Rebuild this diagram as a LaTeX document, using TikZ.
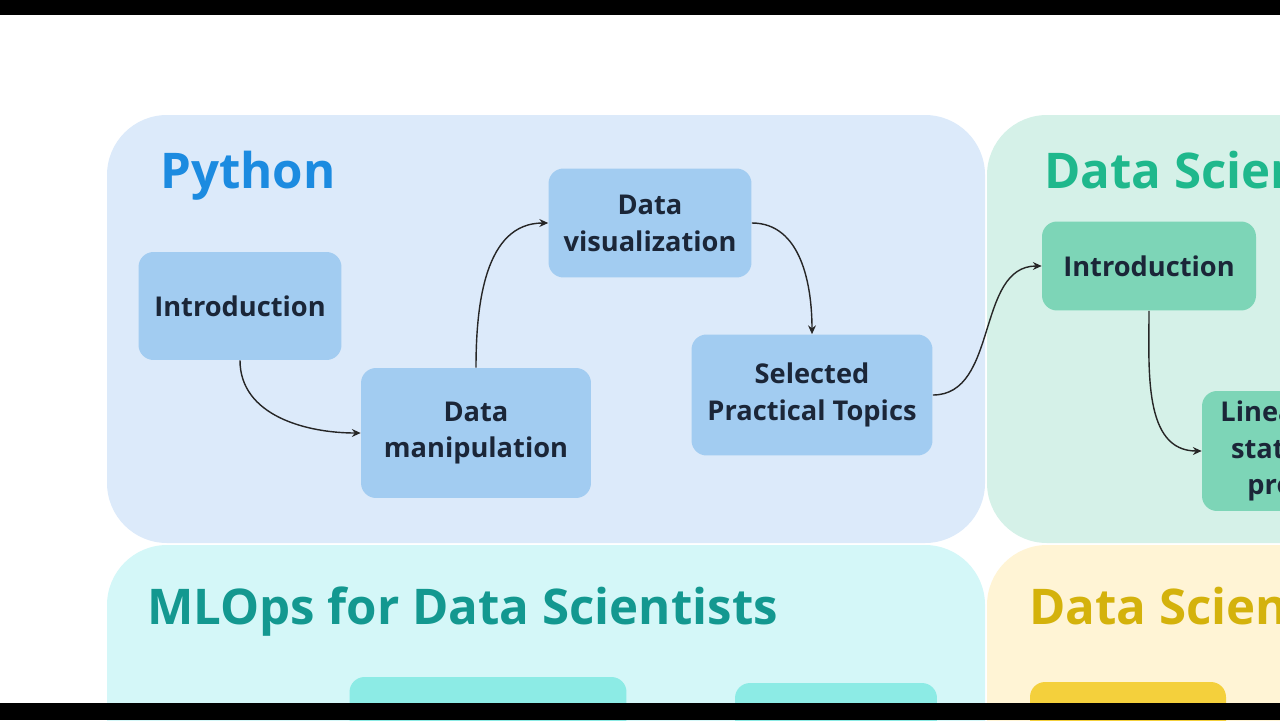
\documentclass[tikz,border=0pt]{standalone}
\usepackage{fontspec}
\setmainfont{Open Sans}
\usetikzlibrary{arrows.meta}
\definecolor{pyback}{HTML}{DCEAFA}
\definecolor{pybox}{HTML}{A2CCF1}
\definecolor{pytitle}{HTML}{1C8BE0}
\definecolor{dsback}{HTML}{D5F1E8}
\definecolor{dsbox}{HTML}{7DD5B7}
\definecolor{dstitle}{HTML}{1FB88C}
\definecolor{mlback}{HTML}{D4F7F8}
\definecolor{mlbox}{HTML}{8CEBE5}
\definecolor{mltitle}{HTML}{139890}
\definecolor{anback}{HTML}{FFF4D5}
\definecolor{anbox}{HTML}{F4D03C}
\definecolor{antitle}{HTML}{D4B20C}
\definecolor{ink}{HTML}{1B2638}
\begin{document}
\begin{tikzpicture}[x=0.02cm,y=-0.02cm,
    panel/.style={rounded corners=1.2cm},
    title/.style={anchor=base west,font=\fontsize{28}{32}\selectfont\bfseries},
    topic/.style={rounded corners=0.3cm,align=center,inner sep=0pt,
      font=\fontsize{15.5}{21}\selectfont\bfseries,text=ink},
    link/.style={-{Stealth[length=5pt,width=4.5pt]},line width=0.8pt,black!85}]
  \useasboundingbox (0,0) rectangle (1280,720);
  \clip (0,0) rectangle (1280,720);
  % panels
  \fill[panel,pyback] (107,115) rectangle (985,543);
  \fill[panel,dsback] (987,115) rectangle (1900,543);
  \fill[panel,mlback] (107,545) rectangle (985,900);
  \fill[panel,anback] (987,545) rectangle (1900,900);
  \node[title,text=pytitle] (python) at (154,188) {Python};
  \node[title,text=dstitle] (dstitle) at (1038,188) {Data Science};
  \node[title,text=mltitle] (mlops) at (141,624) {MLOps for Data Scientists};
  \node[title,text=antitle] (antitle) at (1023,624) {Data Science};
  % python topics
  \node[topic,fill=pybox,minimum width=4.06cm,minimum height=2.16cm] (intro) at (240,306) {Introduction};
  \node[topic,fill=pybox,minimum width=4.6cm,minimum height=2.6cm] (manip) at (476,433) {Data\\manipulation};
  \node[topic,fill=pybox,minimum width=4.06cm,minimum height=2.18cm] (visu) at (650,223) {Data\\visualization};
  \node[topic,fill=pybox,minimum width=4.82cm,minimum height=2.42cm] (select) at (812,395) {Selected\\Practical Topics};
  % data science topics
  \node[topic,fill=dsbox,minimum width=4.28cm,minimum height=1.78cm] (dsintro) at (1149,266) {Introduction};
  \node[topic,fill=dsbox,minimum width=4.8cm,minimum height=2.4cm] (linear) at (1322,451) {Linear algebra,\\statistics and\\probability};
  % lower row
  \node[topic,fill=mlbox,minimum width=5.54cm,minimum height=2.6cm] (mlone) at (488,742) {};
  \node[topic,fill=mlbox,minimum width=4.04cm,minimum height=2.6cm] (mltwo) at (836,748) {};
  \node[topic,fill=anbox,minimum width=3.92cm,minimum height=2.6cm] (anone) at (1128,747) {};
  % connectors
  \draw[link] (intro.south) to[out=-90,in=180] (manip.west);
  \draw[link] (manip.north) to[out=90,in=180] (visu.west);
  \draw[link] (visu.east) to[out=0,in=90] (select.north);
  \draw[link] (select.east) to[out=0,in=180] (dsintro.west);
  \draw[link] (dsintro.south) to[out=-90,in=180] (linear.west);
  % frame bars
  \fill[black] (0,0) rectangle (1280,15);
  \fill[black] (0,703) rectangle (1280,720);
\end{tikzpicture}
\end{document}
